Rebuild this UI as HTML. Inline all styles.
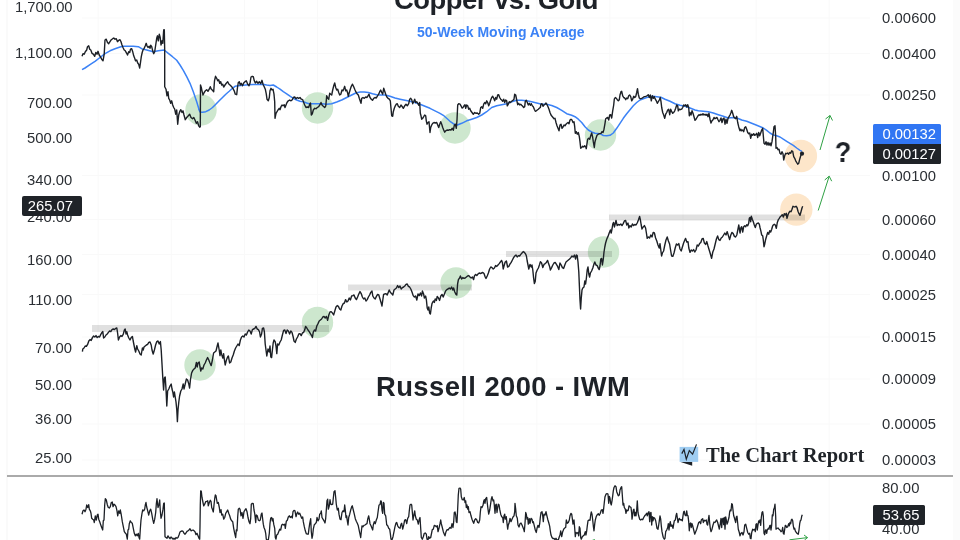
<!DOCTYPE html>
<html><head><meta charset="utf-8"><title>chart</title>
<style>
html,body{margin:0;padding:0;background:#fff;}
body{width:960px;height:540px;overflow:hidden;position:relative;font-family:"Liberation Sans",sans-serif;color:#1f2328;}
.l,.box,.t{will-change:transform;}
.l{position:absolute;font-size:14.8px;line-height:16px;height:16px;white-space:nowrap;color:#2b2f34;}
.ll{right:887.5px;text-align:right;}
.rl{left:882px;letter-spacing:0.1px;}
.box{position:absolute;color:#fff;font-size:14.8px;line-height:20px;white-space:nowrap;}
svg{position:absolute;left:0;top:0;}
.t{position:absolute;font-weight:bold;white-space:nowrap;color:#1e2228;}
</style></head><body>
<div style="position:absolute;left:6px;top:0;width:1.5px;height:540px;background:#fafafa;"></div>
<div style="position:absolute;left:953px;top:0;width:7px;height:540px;background:#fbfbfb;"></div>
<div style="position:absolute;left:7px;top:475px;width:946px;height:2px;background:#aaa;"></div>

<div class="l ll" style="top:-1px">1,700.00</div>
<div class="l ll" style="top:45px">1,100.00</div>
<div class="l ll" style="top:95px">700.00</div>
<div class="l ll" style="top:130px">500.00</div>
<div class="l ll" style="top:172px">340.00</div>
<div class="l ll" style="top:209px">240.00</div>
<div class="l ll" style="top:252px">160.00</div>
<div class="l ll" style="top:292px">110.00</div>
<div class="l ll" style="top:340px">70.00</div>
<div class="l ll" style="top:377px">50.00</div>
<div class="l ll" style="top:411px">36.00</div>
<div class="l ll" style="top:450px">25.00</div>
<div class="l rl" style="top:10px">0.00600</div>
<div class="l rl" style="top:45.5px">0.00400</div>
<div class="l rl" style="top:87px">0.00250</div>
<div class="l rl" style="top:167.5px">0.00100</div>
<div class="l rl" style="top:211.5px">0.00060</div>
<div class="l rl" style="top:246.5px">0.00040</div>
<div class="l rl" style="top:286.5px">0.00025</div>
<div class="l rl" style="top:329px">0.00015</div>
<div class="l rl" style="top:371px">0.00009</div>
<div class="l rl" style="top:416px">0.00005</div>
<div class="l rl" style="top:452px">0.00003</div>
<div class="l rl" style="top:479.5px">80.00</div>
<div class="l rl" style="top:521px">40.00</div>
<svg width="960" height="540" viewBox="0 0 960 540">
<g stroke="#f9f9f9" stroke-width="1" fill="none"><path d="M98.2,0V475M98.2,477V540M171.3,0V475M171.3,477V540M244.4,0V475M244.4,477V540M317.5,0V475M317.5,477V540M390.6,0V475M390.6,477V540M463.7,0V475M463.7,477V540M536.8,0V475M536.8,477V540M609.9,0V475M609.9,477V540M683.0,0V475M683.0,477V540M756.1,0V475M756.1,477V540M829.2,0V475M829.2,477V540M82,18H870M82,53.5H870M82,95H870M82,175.5H870M82,219.5H870M82,254.5H870M82,294.5H870M82,337H870M82,379H870M82,424H870M82,460H870"/></g>
<g fill="#cde7ce">
<circle cx="201" cy="110" r="15.7"/><circle cx="317.5" cy="108" r="15.7"/><circle cx="455" cy="128" r="15.7"/><circle cx="600.5" cy="135" r="15.7"/>
<circle cx="200" cy="365" r="15.7"/><circle cx="317.5" cy="322.5" r="15.7"/><circle cx="456" cy="283" r="15.7"/><circle cx="603.5" cy="252" r="15.7"/>
</g>
<g fill="#fde6ca"><circle cx="800.9" cy="156" r="16.2"/><circle cx="796.3" cy="209.6" r="16.2"/></g>
<g fill="#000" fill-opacity="0.12">
<rect x="92" y="325" width="237" height="7"/>
<rect x="348" y="284.5" width="124" height="6"/>
<rect x="506" y="251" width="106" height="6"/>
<rect x="609" y="214.5" width="196" height="6"/>
</g>

<path d="M82.0,69.7 L85.0,68.0 L90.0,64.7 L95.0,61.3 L100.0,57.5 L105.0,53.7 L110.0,50.8 L115.0,48.8 L120.0,47.0 L123.3,46.3 L128.3,46.3 L133.3,46.2 L138.3,46.7 L141.7,48.7 L146.7,50.0 L153.3,51.7 L158.3,50.8 L164.2,50.0 L168.3,53.3 L172.5,56.7 L176.7,60.3 L180.0,65.0 L183.3,70.3 L186.7,76.7 L190.0,83.3 L193.3,91.7 L196.7,101.7 L199.2,110.0 L198.7,109.2 L200.0,112.0 L202.5,112.3 L205.8,111.7 L209.2,110.0 L212.5,107.5 L215.8,104.2 L219.2,100.8 L222.5,97.5 L225.8,94.2 L229.2,91.3 L232.5,88.3 L235.0,86.3 L238.3,85.8 L243.3,85.3 L248.3,84.7 L253.3,84.5 L258.3,84.5 L262.5,84.2 L266.7,85.0 L270.0,85.5 L273.3,85.0 L276.7,87.0 L280.0,89.2 L283.3,91.7 L286.7,93.8 L290.0,96.2 L293.3,98.3 L296.7,100.0 L300.0,101.3 L303.3,101.7 L306.7,103.0 L309.2,103.8 L313.3,103.7 L320.0,103.8 L321.7,103.7 L326.7,104.2 L331.7,103.7 L336.7,102.0 L341.7,100.0 L346.7,97.5 L351.7,95.0 L355.8,93.0 L360.0,92.0 L364.2,92.0 L368.3,92.5 L372.5,93.8 L376.7,94.7 L380.8,95.0 L385.0,95.0 L390.0,96.3 L395.0,98.0 L400.0,99.2 L405.0,100.3 L410.0,101.3 L415.0,102.5 L420.0,104.2 L425.0,106.3 L430.0,108.3 L435.0,110.8 L440.0,113.3 L443.3,115.3 L446.7,118.3 L450.0,121.3 L453.3,123.7 L456.7,125.3 L456.7,125.3 L461.7,123.3 L466.7,120.8 L471.7,119.2 L476.7,117.5 L481.7,115.0 L486.7,111.7 L491.7,107.5 L496.7,105.8 L501.7,104.7 L506.7,103.7 L511.7,101.7 L516.7,100.3 L521.7,100.3 L526.7,100.8 L531.7,101.7 L536.7,103.0 L541.7,104.2 L546.7,104.2 L551.7,105.5 L556.7,107.5 L561.7,110.3 L566.7,113.7 L571.7,115.3 L575.0,116.7 L578.3,119.2 L581.7,122.5 L585.0,126.7 L588.3,130.0 L591.7,132.0 L595.0,133.3 L600.0,133.7 L603.3,135.5 L606.7,135.8 L610.0,135.3 L613.3,133.0 L616.7,128.3 L620.0,123.3 L623.3,118.3 L626.7,113.7 L630.0,109.7 L633.3,105.8 L636.7,102.5 L640.0,100.0 L643.3,98.7 L646.7,97.5 L650.0,96.7 L653.3,96.3 L656.7,96.7 L660.8,97.2 L665.0,99.2 L670.0,101.3 L675.0,103.7 L680.0,105.3 L685.0,106.3 L690.0,108.0 L695.0,110.0 L698.3,110.8 L703.3,111.2 L708.3,111.7 L713.3,113.0 L718.3,114.7 L723.3,116.3 L728.3,118.0 L733.3,117.5 L736.7,118.0 L740.0,119.2 L741.7,120.0 L746.7,121.3 L751.7,123.3 L756.7,125.3 L763.3,128.0 L766.7,130.3 L770.0,133.0 L773.3,135.0 L776.7,135.8 L780.0,137.0 L783.3,139.2 L786.7,141.3 L790.0,143.3 L793.3,145.3 L796.7,148.0 L800.0,150.3 L802.0,151.3" fill="none" stroke="#3b82f6" stroke-width="1.5" stroke-linejoin="round"/>
<path d="M82.0,56.3 L83.0,53.7 L84.2,54.2 L85.3,51.7 L86.7,50.0 L87.5,46.7 L88.7,45.8 L89.7,49.2 L90.8,50.0 L92.0,53.3 L93.3,54.2 L94.7,56.3 L95.8,52.5 L97.0,54.2 L98.0,51.3 L99.2,55.0 L100.3,56.7 L101.7,59.2 L103.0,60.8 L104.2,54.2 L105.0,40.0 L106.2,39.2 L107.5,42.5 L108.7,43.7 L110.0,41.7 L111.3,39.7 L112.7,38.7 L113.8,38.0 L115.0,39.2 L116.3,38.7 L117.5,41.7 L118.7,40.3 L120.0,39.7 L121.0,41.7 L122.0,45.0 L123.0,47.5 L124.2,50.0 L125.3,50.8 L126.7,53.3 L127.5,55.0 L128.7,51.7 L129.7,52.5 L130.5,49.2 L131.7,48.7 L132.7,51.7 L133.7,55.8 L134.7,58.3 L135.5,60.8 L136.7,60.0 L137.7,63.0 L138.7,64.2 L139.7,68.0 L140.5,62.5 L141.3,56.7 L142.2,52.5 L143.0,50.0 L144.2,48.3 L145.3,45.8 L146.2,43.3 L147.0,45.8 L148.0,47.5 L149.2,46.3 L150.0,48.3 L150.8,45.3 L151.7,46.7 L152.7,50.8 L153.7,53.7 L154.7,51.7 L155.7,45.0 L156.7,38.3 L157.5,35.8 L158.3,40.8 L159.3,34.2 L160.2,37.5 L161.0,45.0 L162.0,40.8 L162.8,43.3 L163.7,30.0 L164.3,29.7 L164.7,50.0 L164.7,86.7 L166.0,89.2 L167.0,95.8 L168.0,91.7 L168.7,98.3 L169.7,100.0 L170.7,103.3 L171.7,100.8 L172.7,105.0 L173.7,107.5 L174.7,109.2 L175.7,114.2 L176.7,110.0 L177.7,124.2 L178.7,115.0 L179.7,111.7 L180.8,109.7 L182.0,112.5 L183.0,110.8 L184.0,115.0 L185.3,119.7 L186.7,117.5 L188.3,115.8 L189.7,114.2 L191.0,117.5 L192.5,118.7 L193.8,117.5 L195.0,120.0 L196.3,123.3 L197.5,121.7 L198.7,125.8 L199.7,127.2 L200.3,126.7 L200.5,85.0 L201.3,87.5 L202.0,90.8 L203.0,95.0 L204.2,92.5 L205.3,90.8 L206.7,89.7 L208.0,91.3 L209.2,89.2 L210.3,86.7 L211.3,89.2 L212.5,90.3 L213.7,91.7 L214.5,80.8 L215.5,76.3 L216.7,78.3 L217.7,80.8 L218.7,79.7 L219.7,83.3 L220.7,81.7 L221.7,85.0 L222.7,84.2 L223.7,87.0 L225.0,85.0 L226.3,83.3 L227.7,81.7 L229.0,84.2 L230.3,85.3 L231.7,86.7 L233.0,88.7 L234.2,90.8 L235.3,94.2 L236.7,94.7 L237.5,87.5 L238.3,82.5 L239.3,81.7 L240.3,85.0 L241.3,83.3 L242.5,85.8 L243.7,83.0 L245.0,81.7 L246.3,80.8 L247.7,84.2 L249.0,85.8 L250.0,83.3 L251.0,77.0 L252.2,76.3 L253.3,76.7 L254.3,80.8 L255.3,83.0 L256.7,81.3 L258.0,83.3 L259.3,81.7 L260.7,83.7 L262.0,80.3 L263.0,84.2 L264.2,86.7 L265.3,89.2 L266.3,94.2 L267.0,99.2 L268.3,100.8 L269.3,97.5 L270.0,90.8 L271.0,88.3 L272.0,90.0 L273.0,89.2 L274.0,94.2 L274.7,101.7 L275.0,118.3 L276.0,113.3 L277.0,111.7 L278.0,110.0 L279.2,108.3 L280.0,109.7 L281.0,106.7 L282.0,105.0 L283.0,105.8 L284.2,104.7 L285.0,107.5 L286.0,105.0 L287.0,102.5 L288.3,100.8 L289.7,100.0 L291.0,100.8 L292.3,99.7 L293.3,97.5 L294.7,97.0 L296.0,98.7 L297.3,97.5 L298.7,98.3 L300.0,97.5 L301.3,99.2 L302.7,99.7 L303.7,102.5 L304.7,105.0 L306.0,107.5 L307.3,107.0 L308.7,107.5 L309.7,104.2 L310.5,103.0 L311.3,115.0 L312.3,113.7 L313.3,110.0 L314.7,108.3 L316.0,108.7 L317.3,107.5 L318.7,106.7 L320.0,104.7 L321.0,102.5 L322.0,105.0 L323.3,106.3 L324.7,107.5 L325.8,105.8 L326.7,95.8 L327.7,98.3 L328.7,99.2 L329.7,93.3 L330.7,94.2 L331.7,95.0 L332.7,90.0 L333.7,85.8 L334.7,83.0 L335.7,87.5 L336.7,90.0 L337.7,89.2 L338.7,92.5 L339.7,95.0 L340.8,94.2 L342.0,90.0 L343.0,90.8 L344.0,88.3 L344.7,86.3 L345.7,90.8 L346.7,90.0 L347.7,93.3 L348.3,96.3 L349.3,92.5 L350.3,89.2 L351.3,86.3 L352.5,84.2 L353.7,86.7 L354.7,89.2 L355.8,91.7 L357.0,93.7 L358.3,95.0 L359.3,98.3 L360.3,101.3 L361.0,103.3 L361.7,98.3 L363.0,97.5 L364.3,98.3 L365.7,97.0 L367.0,97.5 L368.0,95.8 L369.0,94.2 L370.0,97.5 L371.3,99.2 L372.5,100.3 L373.7,98.3 L375.0,97.5 L376.3,98.0 L377.5,95.8 L378.7,94.2 L379.7,91.7 L380.7,90.0 L381.7,92.5 L382.7,94.2 L383.7,88.3 L384.7,91.3 L385.7,94.2 L386.7,96.7 L388.0,98.3 L389.3,99.2 L390.3,100.8 L391.0,108.3 L391.7,115.8 L392.7,116.3 L393.3,111.7 L394.3,108.3 L395.3,105.8 L396.3,104.2 L397.3,103.7 L398.3,106.3 L399.7,107.5 L401.0,105.0 L402.3,106.7 L403.3,108.3 L404.7,105.8 L406.0,104.2 L407.3,105.8 L408.7,103.7 L409.7,99.2 L410.7,98.3 L411.7,99.7 L412.7,103.7 L413.7,101.7 L414.7,99.2 L415.7,102.5 L416.7,101.7 L417.7,103.3 L418.7,105.3 L419.7,102.5 L420.3,113.3 L421.0,115.8 L421.7,119.2 L422.7,118.3 L423.7,116.7 L424.7,115.0 L425.7,115.8 L426.3,120.8 L427.0,124.2 L428.0,122.5 L429.0,121.7 L430.0,132.5 L430.7,127.5 L431.7,125.0 L432.7,123.3 L434.0,122.5 L435.3,123.0 L436.7,122.5 L437.7,125.0 L438.7,127.5 L439.7,124.2 L440.7,121.7 L441.7,124.2 L442.7,127.5 L443.7,130.0 L444.7,132.2 L445.7,130.8 L447.0,130.0 L448.3,130.3 L449.7,129.7 L451.0,130.0 L452.3,128.3 L453.3,130.3 L454.3,125.3 L455.3,124.2 L456.3,128.3 L457.0,120.0 L457.7,105.0 L458.7,103.7 L460.0,104.2 L461.0,105.8 L462.0,108.0 L463.0,107.5 L464.0,105.8 L465.0,104.7 L465.7,108.3 L466.7,105.0 L467.7,105.8 L468.7,109.2 L469.7,108.3 L470.7,110.8 L472.0,112.5 L473.3,114.2 L474.7,112.5 L476.0,113.3 L477.3,113.0 L478.7,114.2 L479.7,113.3 L480.7,107.5 L481.7,106.7 L482.7,108.3 L483.7,104.2 L484.7,102.5 L485.7,103.7 L486.7,100.8 L487.7,102.5 L488.7,105.8 L489.7,103.3 L490.7,100.0 L491.7,97.5 L492.7,96.3 L493.7,98.3 L494.7,100.8 L495.7,97.5 L496.7,99.2 L497.7,95.0 L498.7,94.7 L499.7,97.5 L500.7,99.2 L501.7,100.0 L502.7,101.3 L503.7,99.2 L504.7,102.5 L505.7,100.0 L506.7,100.8 L507.3,105.8 L508.3,104.2 L509.3,101.7 L510.3,102.5 L511.7,101.3 L513.0,100.3 L514.0,99.2 L514.7,94.2 L515.7,95.0 L516.7,100.0 L517.7,104.7 L518.7,103.3 L519.7,105.0 L520.7,104.2 L521.7,105.3 L522.7,106.3 L523.7,107.5 L524.7,106.7 L525.3,101.3 L526.3,100.3 L527.3,102.5 L528.3,105.0 L529.3,103.3 L530.3,105.3 L531.3,103.7 L532.3,105.8 L533.3,106.7 L534.3,109.2 L535.3,111.3 L536.3,110.8 L537.3,110.0 L538.3,109.2 L539.3,108.3 L540.3,107.5 L541.0,104.2 L542.0,103.7 L543.0,106.3 L544.0,105.0 L545.0,104.2 L546.0,103.0 L547.0,104.7 L548.0,106.7 L549.0,109.2 L550.0,112.5 L551.0,115.0 L552.0,116.3 L553.0,117.5 L554.0,118.7 L555.0,118.3 L556.0,122.5 L557.0,125.8 L558.0,128.3 L559.0,130.8 L560.0,125.0 L561.0,124.2 L562.0,128.3 L563.0,127.0 L564.0,125.0 L565.0,125.8 L566.0,124.2 L567.0,123.3 L568.0,122.5 L569.0,123.7 L570.0,120.0 L571.0,119.2 L572.0,120.0 L573.0,122.5 L574.0,121.7 L574.7,126.7 L575.3,133.3 L576.3,131.7 L577.3,134.2 L578.3,132.5 L579.3,136.7 L580.0,141.7 L580.7,148.3 L581.7,147.5 L582.7,146.3 L583.7,147.0 L584.7,145.8 L585.7,146.7 L586.3,148.7 L587.0,143.3 L587.7,139.2 L588.7,138.3 L589.7,139.2 L590.7,135.8 L591.7,133.0 L592.7,137.5 L593.3,141.7 L594.3,147.5 L595.0,141.7 L596.0,138.3 L597.0,135.3 L598.3,134.2 L599.7,133.7 L601.0,133.3 L602.0,131.7 L603.0,132.5 L604.0,129.2 L605.0,123.3 L605.7,118.7 L606.7,118.0 L607.7,117.5 L608.7,120.0 L609.7,115.0 L610.7,114.7 L611.7,118.0 L612.7,110.8 L613.7,105.0 L614.3,99.2 L615.3,97.5 L616.3,98.3 L617.3,99.7 L618.3,100.8 L619.3,99.7 L620.0,95.0 L621.0,91.7 L621.7,91.3 L622.7,95.8 L623.7,97.5 L624.7,98.0 L625.7,99.7 L626.7,98.0 L627.7,98.7 L628.7,95.8 L629.7,95.0 L630.7,96.7 L631.7,100.8 L632.7,99.2 L633.7,96.3 L634.7,97.5 L635.7,96.7 L636.7,92.5 L637.5,88.7 L638.3,94.2 L639.3,98.0 L640.3,98.7 L641.7,98.3 L643.0,97.5 L644.3,96.7 L645.7,96.3 L647.0,95.8 L648.3,94.7 L649.3,97.5 L650.3,95.0 L651.3,100.8 L652.3,95.8 L653.3,98.3 L654.3,96.7 L655.3,99.2 L656.3,100.8 L657.3,103.3 L658.3,101.7 L659.3,100.0 L660.3,97.5 L661.0,101.7 L661.7,107.5 L662.7,112.5 L663.7,115.0 L664.7,118.3 L665.7,114.2 L666.7,112.5 L667.7,110.0 L668.7,109.2 L669.7,114.7 L670.7,109.2 L671.7,111.7 L672.7,113.3 L673.7,112.5 L674.7,110.8 L675.7,108.3 L676.7,105.0 L677.7,105.8 L678.3,110.8 L679.3,109.2 L680.3,109.7 L681.7,109.2 L682.7,107.5 L683.7,105.0 L684.7,105.8 L685.7,104.7 L686.7,107.0 L687.7,104.7 L688.7,107.5 L689.3,115.8 L690.0,112.5 L691.0,115.0 L692.0,110.8 L693.0,113.3 L694.0,116.7 L695.0,120.3 L696.0,119.2 L697.0,117.5 L698.0,115.8 L699.0,114.7 L700.0,115.3 L701.0,114.2 L702.0,115.0 L703.0,113.7 L704.0,115.0 L705.0,114.2 L706.0,115.3 L707.0,114.2 L708.0,116.7 L709.0,113.3 L710.0,119.2 L711.0,123.0 L712.0,120.8 L713.0,119.7 L714.0,117.5 L715.0,118.7 L716.0,118.0 L717.0,117.5 L718.0,119.7 L719.0,121.7 L720.0,120.3 L721.0,118.0 L722.0,122.5 L723.0,118.7 L724.0,118.0 L725.0,124.2 L726.0,119.2 L727.0,123.3 L728.0,118.3 L729.0,116.7 L730.0,115.0 L731.0,112.5 L731.7,110.3 L732.7,113.3 L733.7,116.7 L734.7,118.0 L735.7,118.7 L736.7,116.3 L737.7,122.5 L738.7,126.7 L739.7,130.0 L740.0,130.8 L740.7,129.2 L741.7,130.8 L742.7,130.0 L743.7,131.7 L744.7,127.5 L745.7,126.7 L746.7,129.2 L747.7,132.5 L748.7,133.7 L749.7,133.0 L750.7,138.3 L751.7,134.2 L752.7,135.3 L753.7,133.7 L754.7,135.3 L755.7,134.7 L756.7,133.3 L757.7,137.5 L758.7,132.5 L759.7,135.8 L760.7,133.0 L761.7,130.0 L762.7,128.3 L763.3,135.8 L764.0,143.3 L765.0,144.2 L766.0,141.7 L767.0,145.0 L768.0,142.5 L769.0,145.3 L770.0,143.0 L771.0,145.8 L772.0,141.7 L772.7,136.7 L773.3,132.5 L774.0,126.7 L775.0,125.8 L775.7,136.7 L776.0,148.3 L777.0,147.5 L778.0,149.7 L779.0,149.2 L780.0,153.3 L781.0,154.2 L782.0,151.7 L783.0,153.7 L783.7,160.0 L784.7,155.8 L785.7,153.3 L786.7,153.7 L787.7,153.0 L788.7,154.2 L789.7,152.5 L790.7,153.3 L791.7,150.8 L792.7,151.3 L793.7,156.7 L794.7,158.3 L795.7,160.8 L796.7,162.5 L797.7,164.2 L798.7,163.3 L799.7,159.2 L800.7,155.8 L801.7,153.7" fill="none" stroke="#1c2026" stroke-width="1.4" stroke-linejoin="round"/>
<path d="M82.4,351.6 L82.8,349.0 L84.0,348.0 L85.2,346.0 L86.4,346.4 L87.6,344.4 L88.8,341.0 L90.0,339.6 L91.2,340.4 L92.4,337.6 L93.6,336.0 L94.8,337.0 L96.0,335.6 L97.2,337.6 L98.4,336.4 L99.6,337.0 L100.8,334.4 L102.0,332.4 L102.8,331.6 L103.6,338.0 L104.8,337.0 L106.0,335.0 L107.2,334.0 L108.4,332.4 L109.6,331.0 L110.8,331.6 L112.0,329.6 L113.2,329.0 L114.4,329.6 L115.6,328.4 L116.8,328.0 L117.6,333.0 L118.4,340.0 L119.6,337.0 L120.8,335.6 L122.0,336.4 L123.2,334.4 L124.4,330.0 L125.2,329.0 L126.0,334.0 L126.8,331.6 L127.6,335.0 L128.8,338.0 L130.0,340.0 L131.2,337.6 L132.4,336.4 L133.2,341.0 L134.0,345.0 L134.8,349.0 L135.6,352.0 L136.8,345.6 L137.6,349.0 L138.8,351.0 L140.0,354.0 L141.2,355.0 L142.4,348.0 L143.2,350.0 L144.0,347.0 L145.2,346.0 L146.4,345.0 L147.6,344.4 L148.8,342.4 L150.0,342.0 L151.2,345.0 L152.0,350.0 L153.2,354.0 L154.4,350.0 L155.6,345.0 L156.8,341.6 L158.0,341.0 L159.2,344.0 L160.4,341.6 L161.2,350.0 L162.0,364.0 L162.8,378.0 L163.6,390.0 L164.4,378.0 L165.2,377.0 L166.0,389.0 L166.8,406.0 L167.6,391.0 L168.8,389.0 L170.0,386.0 L171.2,384.0 L172.0,389.0 L172.8,392.0 L173.6,397.0 L174.4,392.0 L175.2,397.0 L176.0,402.0 L176.8,410.0 L177.4,421.6 L178.0,410.0 L178.8,402.0 L179.6,396.0 L180.8,391.0 L182.0,389.0 L183.2,384.0 L184.0,389.0 L185.2,384.0 L186.4,379.0 L187.6,380.0 L188.8,384.0 L189.6,388.0 L190.4,380.0 L191.6,373.0 L192.8,370.4 L194.0,369.0 L195.2,368.0 L196.4,362.4 L197.2,367.0 L198.0,363.0 L199.2,362.0 L200.0,367.0 L200.8,371.0 L201.6,368.0 L202.8,369.0 L204.0,365.0 L205.2,363.0 L206.4,360.0 L207.6,357.6 L208.8,360.0 L210.0,363.0 L211.2,365.6 L212.4,360.0 L213.6,353.0 L214.8,352.0 L216.0,351.0 L217.2,346.0 L218.0,343.0 L219.2,350.0 L220.0,355.6 L220.8,350.0 L221.6,354.4 L222.8,358.0 L223.6,353.6 L224.4,360.0 L225.2,365.0 L226.4,360.0 L227.6,357.0 L228.4,356.0 L229.6,363.0 L230.8,362.0 L232.0,358.0 L233.2,355.0 L234.4,351.0 L235.6,348.0 L236.8,346.0 L238.0,344.0 L239.2,345.6 L240.4,340.0 L241.6,337.0 L242.8,336.0 L244.0,337.0 L245.2,334.0 L246.4,335.0 L247.6,332.0 L248.8,330.0 L250.0,331.0 L251.2,334.0 L252.4,329.6 L253.6,329.0 L254.8,328.4 L256.0,326.4 L257.2,329.0 L258.4,329.6 L259.6,332.0 L260.4,337.0 L261.6,334.0 L262.4,328.4 L263.6,328.0 L264.4,332.0 L265.2,344.0 L266.0,350.0 L266.8,356.0 L268.0,349.0 L269.2,352.0 L270.0,346.0 L270.8,357.0 L271.6,357.6 L272.4,350.0 L273.2,343.0 L274.0,340.0 L275.2,341.6 L276.0,346.0 L276.8,353.6 L277.6,344.0 L278.8,345.0 L280.0,342.0 L281.2,340.0 L282.4,335.0 L283.6,330.4 L284.8,330.0 L286.0,333.6 L287.2,330.0 L288.4,331.0 L289.6,334.0 L290.8,331.0 L292.0,332.4 L293.2,337.0 L294.0,341.0 L295.2,342.4 L296.4,339.0 L297.6,337.0 L298.8,334.0 L300.0,333.6 L301.2,335.6 L302.4,333.0 L303.6,332.4 L304.8,329.6 L305.6,326.4 L306.8,328.0 L308.0,330.0 L309.2,331.6 L310.4,333.6 L311.6,335.6 L312.4,337.6 L313.2,332.4 L314.4,330.0 L315.6,331.0 L316.8,326.0 L318.0,323.6 L319.2,321.0 L320.4,320.0 L321.6,319.0 L322.8,317.0 L324.0,316.4 L325.2,318.0 L326.4,316.4 L327.6,320.4 L328.8,315.0 L330.0,312.0 L331.2,311.6 L332.4,313.0 L333.6,315.0 L334.8,311.0 L336.0,307.0 L337.2,305.6 L338.4,306.4 L339.6,309.0 L340.8,310.0 L342.0,306.0 L343.2,303.6 L344.4,303.0 L345.6,299.6 L346.8,302.0 L348.0,301.0 L349.2,298.0 L350.4,300.0 L351.6,296.0 L352.8,295.6 L354.0,295.0 L355.2,298.0 L356.4,299.6 L357.6,297.0 L358.8,294.0 L360.0,291.6 L361.2,293.6 L362.4,297.0 L363.6,299.0 L364.8,298.0 L366.0,301.0 L367.2,299.6 L368.4,297.0 L369.6,295.0 L370.8,292.4 L372.0,291.0 L372.8,296.0 L374.0,298.0 L375.2,299.0 L376.4,296.4 L377.6,294.4 L378.8,295.0 L380.0,299.0 L381.2,303.0 L382.0,306.0 L382.8,300.0 L383.6,294.4 L384.8,294.0 L386.0,293.6 L387.2,295.0 L388.4,292.0 L389.2,290.0 L390.4,292.4 L391.6,293.6 L392.8,295.0 L394.0,290.0 L395.2,289.0 L396.4,288.0 L397.6,285.6 L398.8,287.6 L400.0,286.0 L401.2,289.0 L402.4,287.6 L403.6,287.0 L404.8,286.0 L406.0,284.4 L407.2,284.0 L408.4,286.4 L409.6,287.0 L410.8,289.0 L412.0,292.0 L413.2,295.6 L414.4,297.0 L415.6,296.0 L416.8,300.0 L418.0,294.0 L419.2,295.6 L420.4,293.0 L421.6,296.0 L422.4,291.0 L423.6,294.0 L424.4,298.0 L425.6,296.0 L426.4,300.0 L427.2,308.0 L428.0,310.0 L428.8,307.0 L429.6,313.0 L430.4,314.0 L431.2,308.0 L432.0,303.6 L432.8,302.0 L433.6,301.0 L434.4,302.4 L435.2,299.0 L436.4,300.4 L437.2,296.4 L438.4,298.0 L439.6,300.4 L440.8,296.0 L442.0,294.4 L443.2,297.0 L444.4,294.0 L445.6,291.0 L446.8,289.6 L448.0,289.0 L449.2,288.0 L450.4,289.0 L451.6,287.0 L452.8,290.0 L453.6,288.0 L454.8,292.0 L456.0,294.4 L456.8,295.0 L457.6,284.0 L458.4,279.6 L459.6,278.0 L460.4,276.0 L461.6,279.0 L462.8,277.6 L464.0,278.4 L465.2,278.0 L466.4,277.0 L467.6,276.0 L468.8,275.6 L470.0,277.0 L471.2,278.0 L472.4,277.0 L473.6,279.6 L474.4,276.0 L475.6,274.4 L476.8,275.6 L478.0,274.0 L479.2,273.0 L480.4,273.6 L481.6,273.0 L482.8,272.4 L484.0,273.6 L485.2,277.0 L486.0,278.4 L487.2,276.0 L488.4,273.0 L489.6,269.0 L490.8,267.0 L492.0,267.6 L493.2,269.0 L494.4,268.0 L495.6,265.6 L496.8,266.4 L498.0,265.0 L499.2,263.6 L500.4,262.0 L501.6,260.4 L502.4,262.4 L503.2,269.0 L504.0,266.0 L505.2,262.0 L506.4,261.0 L507.6,267.0 L508.8,266.4 L510.0,264.0 L511.2,262.4 L512.4,260.0 L513.6,257.6 L514.8,256.0 L516.0,255.0 L517.2,257.0 L518.4,255.6 L519.6,256.0 L520.8,254.4 L522.0,253.0 L523.2,251.6 L524.4,252.4 L525.6,254.0 L526.4,256.0 L527.2,261.0 L528.0,265.0 L528.8,269.0 L530.0,264.4 L531.2,267.0 L532.0,265.0 L532.8,270.0 L533.6,278.0 L534.4,283.6 L535.2,281.6 L536.0,273.0 L537.2,270.0 L538.4,268.0 L539.6,264.4 L540.4,261.6 L541.6,263.0 L542.8,267.6 L544.0,264.4 L545.2,263.6 L546.4,262.4 L547.6,260.4 L548.4,263.0 L549.6,266.4 L550.4,270.0 L551.6,267.6 L552.8,265.0 L554.0,263.0 L555.2,262.4 L556.4,264.4 L557.6,266.4 L558.8,269.6 L560.0,263.0 L561.2,265.0 L562.4,267.6 L563.6,268.4 L564.8,265.0 L566.0,262.0 L567.2,261.0 L568.4,260.0 L569.6,259.0 L570.8,257.6 L572.0,256.0 L573.2,257.0 L574.4,255.0 L575.6,259.0 L576.4,255.0 L577.2,255.6 L578.0,262.0 L578.8,272.0 L579.4,286.0 L580.0,300.0 L580.6,309.0 L581.2,299.0 L582.0,290.0 L582.8,288.0 L584.0,287.0 L584.8,281.0 L585.6,284.0 L586.4,278.0 L587.2,270.0 L588.0,267.0 L588.8,274.0 L589.6,277.0 L590.4,273.0 L591.6,271.0 L592.8,268.0 L594.0,264.0 L594.8,262.0 L596.0,265.0 L597.2,265.6 L598.4,268.4 L599.2,269.6 L600.0,266.0 L600.8,259.0 L601.6,258.4 L602.4,265.0 L603.2,260.0 L604.0,252.0 L604.8,247.0 L605.6,243.0 L606.8,239.0 L608.0,236.4 L609.2,233.0 L610.4,230.0 L611.2,233.0 L612.0,229.0 L612.8,224.0 L613.6,222.4 L614.4,227.0 L615.2,224.0 L616.0,220.4 L617.2,225.6 L618.4,224.4 L619.6,225.0 L620.8,224.0 L622.0,225.6 L623.2,223.6 L624.4,221.0 L625.6,220.4 L626.8,225.0 L628.0,223.0 L628.8,228.0 L630.0,225.6 L631.2,227.0 L632.4,224.0 L633.6,225.6 L634.8,224.4 L636.0,225.0 L637.2,223.0 L638.4,220.0 L639.6,216.4 L640.4,220.0 L641.2,225.0 L642.0,229.0 L643.2,227.0 L644.4,225.6 L645.6,228.0 L646.4,233.0 L647.2,238.4 L648.4,237.0 L649.6,238.0 L650.8,235.0 L652.0,237.0 L653.2,232.4 L654.4,233.0 L655.6,238.0 L656.8,241.0 L658.0,245.0 L659.2,248.0 L660.0,243.6 L660.8,250.0 L661.6,256.0 L662.4,253.0 L663.6,251.0 L664.8,245.0 L666.0,240.0 L667.2,237.0 L668.4,241.0 L669.6,244.0 L670.4,249.0 L671.6,256.0 L672.8,256.4 L674.0,253.0 L675.2,248.0 L676.4,244.0 L677.6,245.0 L678.8,243.6 L680.0,249.0 L681.2,251.0 L682.4,247.0 L683.6,243.0 L684.8,240.0 L685.6,238.4 L686.8,242.0 L688.0,241.6 L688.8,248.0 L690.0,252.4 L691.2,250.0 L692.4,251.0 L693.6,249.6 L694.8,252.0 L696.0,250.0 L697.2,245.0 L698.4,246.0 L699.6,243.6 L700.8,242.4 L702.0,239.0 L703.2,238.4 L704.4,243.0 L705.6,244.4 L706.8,241.6 L708.0,246.0 L709.2,250.0 L710.4,254.0 L711.6,258.4 L712.8,252.0 L714.0,249.0 L715.2,244.0 L716.4,239.0 L717.6,236.0 L718.8,239.6 L720.0,240.4 L721.2,238.0 L722.4,237.0 L723.6,235.0 L724.8,233.0 L726.0,235.0 L727.2,231.6 L728.4,235.6 L729.6,239.6 L730.8,235.0 L732.0,232.4 L733.2,233.6 L734.4,236.4 L735.6,237.0 L736.8,235.0 L738.0,229.0 L738.8,225.0 L740.0,233.0 L740.0,233.0 L741.0,227.5 L741.7,226.7 L742.7,232.0 L743.7,226.7 L744.7,225.8 L745.7,226.7 L746.7,224.7 L747.7,225.8 L748.7,223.3 L749.3,218.3 L750.0,217.5 L750.7,221.7 L751.3,216.3 L752.3,219.2 L753.3,221.7 L754.3,225.0 L755.3,227.5 L756.3,224.2 L757.3,223.3 L758.3,223.0 L759.3,224.2 L760.0,227.5 L761.0,231.7 L761.7,235.0 L762.7,235.8 L763.3,240.0 L764.0,246.7 L764.7,244.2 L765.7,239.2 L766.7,235.8 L767.7,232.5 L768.7,234.2 L769.7,230.8 L770.7,232.0 L771.7,229.2 L772.7,225.8 L773.3,225.0 L774.3,224.2 L775.3,225.0 L776.3,228.3 L777.3,222.5 L778.3,219.7 L779.3,218.3 L780.3,216.7 L781.3,215.8 L782.3,214.7 L783.3,217.0 L784.3,213.7 L785.3,215.0 L786.3,213.3 L787.0,218.3 L788.0,214.7 L789.0,212.5 L790.0,211.3 L791.0,211.7 L792.0,209.2 L793.0,206.3 L794.0,206.7 L795.0,207.0 L796.0,206.3 L797.0,207.5 L798.0,211.3 L799.0,213.7 L800.0,215.3 L801.0,211.7 L802.0,208.0 L802.7,206.3" fill="none" stroke="#1c2026" stroke-width="1.4" stroke-linejoin="round"/>
<path d="M82.0,514.2 L83.0,510.8 L84.0,510.0 L85.0,511.7 L86.0,509.2 L86.7,505.0 L87.7,507.5 L88.7,504.7 L89.3,509.2 L90.3,510.8 L91.0,513.3 L91.7,518.3 L92.7,519.2 L93.7,520.0 L94.3,522.5 L95.3,515.8 L96.3,520.0 L97.3,515.0 L98.0,514.2 L98.7,519.2 L99.7,521.7 L100.7,524.7 L101.7,527.5 L102.7,530.0 L103.3,520.8 L104.0,520.0 L104.7,505.0 L105.3,498.7 L106.3,500.0 L107.3,504.7 L108.3,507.5 L109.3,508.0 L110.3,506.7 L111.3,502.5 L112.3,502.0 L113.0,506.7 L114.0,504.2 L115.0,505.0 L116.0,506.7 L117.0,510.8 L117.7,515.8 L118.7,510.8 L119.7,513.3 L120.3,510.0 L121.3,515.0 L122.3,521.7 L123.3,526.7 L124.3,531.7 L125.3,533.0 L126.3,534.2 L127.3,539.2 L128.0,530.0 L128.7,529.2 L129.3,523.7 L130.3,520.8 L131.3,522.5 L132.3,523.3 L133.3,528.3 L134.3,533.3 L135.3,535.8 L136.3,534.2 L137.3,535.8 L138.3,533.3 L139.0,537.5 L139.7,539.2 L140.3,529.2 L141.0,520.0 L142.0,513.3 L142.7,510.0 L143.7,510.8 L144.7,509.2 L145.3,505.0 L146.0,502.5 L146.7,507.0 L147.7,510.8 L148.7,515.0 L149.7,510.8 L150.7,509.2 L151.7,513.3 L152.7,519.2 L153.7,523.3 L154.7,519.2 L155.7,512.5 L156.3,504.2 L157.0,498.7 L158.0,507.5 L159.0,504.2 L159.7,500.0 L160.3,510.8 L161.0,518.3 L162.0,515.0 L163.0,509.2 L163.7,503.3 L164.3,503.0 L164.7,521.7 L165.0,536.7 L166.0,537.5 L167.0,538.3 L168.0,535.8 L169.0,537.5 L170.0,538.7 L171.0,537.0 L172.0,538.0 L173.0,539.2 L174.0,538.3 L175.0,539.2 L176.0,537.5 L177.0,538.3 L178.0,537.5 L179.0,535.0 L180.0,532.0 L181.0,531.3 L182.0,530.8 L183.0,531.3 L184.0,533.3 L185.0,534.2 L186.0,533.0 L187.0,531.3 L188.0,530.8 L189.0,530.0 L190.0,528.7 L191.0,530.8 L192.0,530.3 L193.0,530.0 L194.0,530.8 L195.0,531.7 L196.0,534.7 L197.0,533.3 L198.0,535.8 L199.0,538.3 L199.7,539.2 L200.0,526.7 L200.3,505.0 L200.7,490.8 L201.3,491.3 L202.0,497.5 L203.0,502.5 L203.7,505.8 L204.7,504.2 L205.7,501.7 L206.7,501.3 L207.7,500.8 L208.3,505.8 L209.3,502.5 L210.3,500.3 L211.0,501.3 L211.7,507.5 L212.7,510.0 L213.3,512.0 L214.0,505.0 L214.7,498.7 L215.3,495.0 L216.0,495.8 L216.7,500.0 L217.3,503.3 L218.3,502.5 L219.3,507.5 L220.0,512.5 L221.0,509.7 L221.7,515.0 L222.7,514.2 L223.7,519.2 L224.7,517.5 L225.7,513.3 L226.7,511.7 L227.7,510.0 L228.7,513.3 L229.7,515.8 L230.7,519.2 L231.7,520.8 L232.7,521.7 L233.7,528.3 L234.7,533.3 L235.7,537.5 L236.3,530.0 L237.0,530.8 L237.7,516.7 L238.3,509.2 L239.3,508.3 L240.0,509.2 L241.0,515.8 L242.0,512.5 L243.0,518.3 L244.0,511.7 L245.0,510.0 L246.0,508.7 L247.0,511.7 L248.0,517.5 L249.0,521.7 L250.0,523.7 L250.7,518.3 L251.3,504.2 L252.3,503.3 L253.3,503.7 L254.0,510.0 L254.7,513.3 L255.7,522.5 L256.3,515.0 L257.3,515.8 L258.3,520.0 L259.3,520.8 L260.3,520.0 L261.3,514.2 L262.0,513.0 L262.7,519.2 L263.3,524.2 L264.0,527.5 L265.0,530.0 L265.7,533.3 L266.3,539.2 L267.3,540.0 L268.3,540.0 L269.3,533.3 L270.0,523.3 L270.7,518.0 L271.7,517.5 L272.3,520.8 L273.0,518.7 L273.7,524.2 L274.7,528.3 L275.3,537.5 L276.0,539.2 L276.7,535.0 L277.7,534.2 L278.7,531.7 L279.7,529.2 L280.7,530.0 L281.7,525.0 L282.7,524.2 L283.7,525.0 L284.7,524.2 L285.3,528.3 L286.3,521.3 L287.3,520.3 L288.3,517.0 L289.3,515.8 L290.3,517.5 L291.3,516.3 L292.3,518.0 L293.0,511.7 L294.0,510.3 L295.0,510.8 L296.0,516.7 L297.0,513.3 L297.7,512.0 L298.7,514.2 L299.7,513.3 L300.7,515.8 L301.7,518.3 L302.7,517.0 L303.3,521.7 L304.3,526.7 L305.3,530.8 L306.3,533.7 L307.3,534.2 L308.3,534.2 L309.0,528.3 L309.7,523.7 L310.7,518.7 L311.3,531.7 L312.0,538.3 L312.7,535.0 L313.3,529.2 L314.3,524.7 L315.3,523.7 L316.3,522.5 L317.0,517.5 L318.0,520.8 L319.0,519.2 L319.7,514.2 L320.7,513.3 L321.3,510.8 L322.0,517.5 L323.0,519.2 L324.0,520.8 L325.0,523.0 L325.7,518.3 L326.3,510.0 L327.0,500.8 L327.7,499.2 L328.3,509.2 L329.3,505.8 L330.0,499.7 L330.7,504.2 L331.7,504.7 L332.7,504.2 L333.3,498.3 L334.0,491.7 L335.0,490.8 L335.7,497.5 L336.3,504.2 L337.3,510.0 L338.3,508.3 L339.0,514.2 L340.0,519.2 L341.0,519.7 L342.0,512.5 L343.0,510.8 L344.0,511.7 L344.7,505.0 L345.3,510.0 L346.0,517.5 L346.7,515.8 L347.3,520.8 L348.0,525.0 L348.7,517.5 L349.7,514.2 L350.7,510.0 L351.7,506.7 L352.3,505.8 L353.3,510.0 L354.3,514.2 L355.3,518.7 L356.3,521.3 L357.3,523.3 L358.3,525.8 L359.3,530.8 L360.0,534.2 L360.7,537.5 L361.3,531.7 L362.0,525.8 L363.0,526.7 L364.0,525.3 L365.0,525.0 L366.0,524.2 L367.0,523.7 L367.7,519.2 L368.7,515.8 L369.3,519.2 L370.0,523.7 L371.0,525.8 L372.0,528.3 L372.7,530.0 L373.3,525.0 L374.3,521.7 L375.3,523.7 L376.3,520.0 L377.3,517.5 L378.3,510.0 L379.0,505.0 L380.0,504.7 L380.7,500.8 L381.3,501.3 L382.0,510.0 L382.7,513.3 L383.3,502.5 L384.0,503.3 L384.7,514.2 L385.7,515.8 L386.7,524.7 L387.7,525.8 L388.7,528.3 L389.7,529.2 L390.3,533.3 L391.0,539.2 L392.0,539.7 L393.0,536.7 L394.0,531.7 L395.0,526.7 L396.0,523.0 L396.7,522.5 L397.7,525.8 L398.7,527.5 L400.0,528.3 L401.0,524.2 L401.7,523.3 L402.7,529.2 L403.7,525.0 L404.7,520.0 L405.7,519.7 L406.7,523.7 L407.7,518.3 L408.7,516.7 L409.3,510.8 L410.0,505.0 L411.0,504.2 L411.7,505.0 L412.3,511.7 L413.0,520.0 L413.7,515.8 L414.7,510.8 L415.3,515.8 L416.3,519.2 L417.3,520.0 L418.3,524.2 L419.3,519.2 L420.0,517.5 L420.7,528.3 L421.3,537.5 L422.3,539.2 L423.3,536.7 L424.3,533.3 L425.3,533.0 L426.3,534.2 L427.0,539.2 L428.0,540.0 L428.7,536.7 L429.7,538.3 L430.7,537.5 L431.7,532.5 L432.3,529.7 L433.3,529.2 L434.3,525.3 L435.3,525.8 L436.3,526.7 L437.3,525.8 L438.0,531.7 L439.0,528.3 L440.0,523.7 L440.7,520.0 L441.3,523.7 L442.3,527.5 L443.3,531.7 L444.3,534.2 L445.0,535.8 L446.0,531.7 L447.0,529.7 L448.0,530.0 L449.0,528.7 L450.0,527.5 L451.0,528.3 L452.0,523.7 L453.0,527.5 L453.7,521.7 L454.3,512.5 L455.0,512.0 L455.7,515.0 L456.3,521.7 L457.0,522.5 L457.7,508.3 L458.3,495.0 L459.0,488.3 L460.0,488.0 L460.7,489.2 L461.3,496.7 L462.3,499.7 L463.3,500.0 L464.3,497.5 L465.0,502.5 L465.7,500.8 L466.3,507.5 L467.0,505.0 L467.7,509.2 L468.3,506.7 L469.0,512.5 L470.0,511.7 L471.0,515.8 L472.0,519.2 L473.0,521.7 L473.7,523.3 L474.7,520.0 L475.7,518.7 L476.7,519.7 L477.7,522.5 L478.7,523.0 L479.7,520.0 L480.3,512.5 L481.0,506.7 L482.0,507.5 L483.0,505.3 L483.7,501.3 L484.3,499.7 L485.0,503.3 L485.7,498.7 L486.7,497.5 L487.3,503.3 L488.0,509.2 L488.7,514.2 L489.7,510.0 L490.7,503.3 L491.3,499.2 L492.0,496.7 L493.0,500.8 L493.7,500.0 L494.3,505.0 L495.0,513.3 L495.7,505.0 L496.3,504.2 L497.0,512.5 L497.7,507.5 L498.3,504.2 L499.0,504.7 L499.7,509.2 L500.7,514.2 L501.7,516.7 L502.7,517.5 L503.3,522.5 L504.0,515.8 L504.7,514.2 L505.3,519.2 L506.3,516.7 L507.0,523.3 L507.7,529.2 L508.3,525.0 L509.0,523.3 L510.0,518.3 L511.0,521.7 L512.0,519.2 L513.0,517.0 L514.0,515.8 L514.7,511.7 L515.0,503.3 L515.7,509.2 L516.3,515.8 L517.3,518.3 L518.0,525.0 L519.0,527.0 L520.0,523.7 L521.0,523.0 L522.0,525.0 L523.0,527.5 L523.7,529.2 L524.3,531.7 L525.0,523.3 L525.7,512.5 L526.3,514.2 L527.0,519.2 L527.7,517.5 L528.3,524.2 L529.3,518.7 L530.0,523.3 L531.0,518.3 L532.0,519.2 L532.7,522.5 L533.3,521.7 L534.3,525.8 L535.3,530.0 L536.3,532.5 L537.0,528.3 L538.0,525.3 L539.0,527.5 L539.7,523.7 L540.3,517.5 L541.0,512.5 L542.0,511.7 L542.7,515.8 L543.3,521.7 L544.0,514.2 L545.0,515.0 L546.0,511.7 L546.7,515.0 L547.7,519.2 L548.7,522.5 L549.7,526.3 L550.3,530.8 L551.0,535.0 L552.0,537.5 L553.0,538.7 L554.0,538.3 L555.0,539.7 L556.0,538.3 L557.0,540.0 L558.3,540.0 L559.3,536.7 L560.0,535.0 L560.7,530.8 L561.7,536.7 L562.7,531.7 L563.7,529.2 L564.7,528.0 L565.7,527.5 L566.3,520.0 L567.3,523.3 L568.3,522.5 L569.3,520.0 L570.0,515.8 L571.0,513.3 L571.7,514.2 L572.3,518.3 L573.0,524.2 L574.0,520.0 L574.7,528.3 L575.3,536.7 L576.0,532.5 L577.0,533.3 L578.0,532.5 L578.7,535.8 L579.3,526.7 L580.0,528.3 L580.7,537.5 L581.3,539.2 L582.3,536.7 L583.3,535.8 L584.3,535.0 L585.3,531.7 L586.0,535.0 L586.7,530.8 L587.3,525.8 L588.0,520.8 L589.0,520.0 L590.0,520.3 L590.7,515.0 L591.3,512.0 L592.0,514.2 L592.7,520.0 L593.3,525.8 L594.0,530.8 L594.7,524.2 L595.3,520.0 L596.3,516.3 L597.3,514.7 L598.3,513.7 L599.3,515.3 L600.3,513.3 L601.3,510.0 L602.3,509.7 L603.0,513.3 L603.7,508.3 L604.3,502.5 L605.0,496.7 L606.0,494.2 L607.0,493.7 L608.0,494.2 L608.7,503.3 L609.3,496.3 L610.0,498.3 L610.7,503.3 L611.3,505.0 L612.0,500.8 L612.7,495.8 L613.3,490.8 L614.0,487.5 L615.0,485.8 L616.0,486.7 L616.7,491.7 L617.7,494.2 L618.3,495.8 L619.3,495.0 L620.0,490.0 L621.0,487.5 L621.7,486.7 L622.3,495.0 L623.0,505.0 L623.7,503.3 L624.3,507.5 L625.3,509.2 L626.0,513.3 L626.7,510.0 L627.7,510.8 L628.3,510.0 L629.0,505.8 L630.0,506.7 L631.0,507.5 L631.7,513.3 L632.0,519.2 L632.7,515.0 L633.3,510.0 L634.0,509.2 L634.7,515.8 L635.3,512.5 L636.0,515.8 L636.7,510.0 L637.3,500.8 L638.0,512.5 L638.7,515.8 L639.7,519.2 L640.7,520.0 L641.7,519.2 L642.7,519.7 L643.7,517.5 L644.7,515.8 L645.7,514.7 L646.7,513.3 L647.3,515.8 L648.3,512.5 L649.0,511.7 L649.7,521.7 L650.3,513.3 L651.0,512.5 L651.7,525.0 L652.3,516.7 L653.0,520.8 L653.7,517.5 L654.7,518.3 L655.7,520.8 L656.3,524.2 L657.0,528.3 L658.0,529.2 L658.7,525.0 L659.3,520.8 L660.0,515.8 L660.7,519.2 L661.3,525.8 L662.0,531.7 L662.7,535.0 L663.3,537.5 L664.3,539.2 L665.0,538.3 L665.7,531.7 L666.7,530.0 L667.7,527.5 L668.3,523.7 L669.0,530.0 L669.7,524.2 L670.3,521.7 L671.0,526.3 L672.0,525.0 L673.0,528.3 L673.7,524.2 L674.3,520.8 L675.3,520.0 L676.0,515.8 L676.7,513.3 L677.3,517.5 L678.0,522.5 L678.7,520.0 L679.3,518.3 L680.3,520.0 L681.3,519.7 L682.3,520.8 L683.0,515.8 L683.7,511.7 L684.3,511.3 L685.0,515.0 L686.0,515.8 L686.7,510.8 L687.3,515.3 L688.0,515.8 L688.7,521.7 L689.3,530.8 L690.0,523.7 L690.7,523.0 L691.3,527.5 L692.0,523.7 L692.7,525.8 L693.7,530.0 L694.7,534.2 L695.7,531.7 L696.7,529.2 L697.7,525.8 L698.7,522.5 L699.7,521.7 L700.7,523.7 L701.3,520.0 L702.0,519.2 L702.7,518.7 L703.3,522.5 L704.3,520.3 L705.3,520.8 L706.3,520.0 L707.0,524.2 L707.7,525.0 L708.3,520.0 L709.0,515.3 L709.7,523.3 L710.3,528.3 L711.0,531.7 L712.0,529.2 L713.0,525.0 L714.0,522.0 L715.0,522.5 L716.0,520.8 L716.7,520.0 L717.7,522.5 L718.3,525.0 L719.3,529.2 L720.0,525.0 L720.3,523.7 L721.0,518.3 L721.7,527.5 L722.3,519.2 L723.0,518.3 L723.7,524.7 L724.3,517.5 L725.0,529.2 L725.7,517.0 L726.3,520.0 L727.0,524.2 L727.7,522.5 L728.3,520.0 L729.0,517.5 L729.7,511.7 L730.3,510.0 L731.0,510.8 L731.7,503.7 L732.3,504.2 L733.0,510.0 L733.7,515.8 L734.3,517.5 L735.0,520.0 L735.7,522.5 L736.3,517.0 L737.0,516.3 L737.7,523.3 L738.3,529.2 L739.3,532.5 L740.0,535.8 L741.0,533.3 L742.0,532.5 L743.0,535.0 L744.0,531.7 L744.7,525.0 L745.7,524.2 L746.7,528.3 L747.7,532.5 L748.7,534.2 L749.7,533.3 L750.3,538.3 L751.0,538.7 L751.7,532.5 L752.7,529.2 L753.7,530.0 L754.7,529.2 L755.3,531.7 L756.0,524.2 L756.7,523.7 L757.3,530.0 L758.0,525.0 L758.7,520.8 L759.3,522.5 L760.0,520.0 L760.7,525.3 L761.3,517.5 L762.0,512.5 L762.7,511.7 L763.3,515.8 L764.0,533.3 L764.7,534.7 L765.3,530.8 L766.0,529.7 L766.7,533.3 L767.3,530.0 L768.3,528.3 L769.0,529.2 L769.7,525.8 L770.3,525.3 L771.0,530.0 L771.7,525.0 L772.3,515.0 L773.0,515.8 L773.7,509.2 L774.3,508.3 L775.0,504.2 L775.7,516.7 L776.0,529.2 L777.0,528.3 L778.0,528.0 L779.0,529.2 L780.0,530.0 L781.0,531.7 L782.0,530.8 L782.7,527.5 L783.3,533.3 L784.0,534.2 L784.7,529.2 L785.3,525.3 L786.0,525.8 L786.7,527.5 L787.7,526.7 L788.7,523.7 L789.3,525.8 L790.0,522.5 L790.7,523.7 L791.3,520.0 L792.0,519.2 L792.7,520.8 L793.3,525.8 L794.0,529.2 L794.7,528.3 L795.3,530.8 L796.3,532.5 L797.3,533.7 L798.3,534.2 L799.0,530.0 L799.7,523.7 L800.3,520.8 L801.0,520.0 L801.7,516.3 L802.3,514.7" fill="none" stroke="#1c2026" stroke-width="1.3" stroke-linejoin="round"/>
<circle cx="802" cy="153.7" r="2.1" fill="#1c2026"/>
<g fill="none" stroke="#2ea043" stroke-width="1">
<path d="M820,150 L830,115.5 M825.5,119 L830,115.5 L832.5,120.5"/>
<path d="M818.2,210.5 L829.2,176.2 M824.7,180 L829.2,176.2 L831.7,181.2"/>
<path d="M789.5,539.8 L807.5,537.6 M804,535 L807.5,537.6 L804.5,540"/>
<path d="M592.5,540.2 L595,539.7"/>
</g>
<!-- logo -->
<g>
<rect x="679.6" y="446.9" width="18.6" height="15" fill="#9fcdf2"/>
<path d="M680.7,462 L692.2,462 L692.2,465.8 Z" fill="#1c2026"/>
<path d="M681.8,453.6 L684,449.4 L686.3,459.2 L689.3,450.6 L692.6,454.2 L696.5,444.4" fill="none" stroke="#1c2026" stroke-width="1.2" stroke-linejoin="miter"/>
</g>
</svg>
<div class="t" style="left:393.7px;top:-16px;font-size:27.4px;line-height:32px;letter-spacing:-0.5px">Copper vs. Gold</div>
<div class="t" style="left:376px;top:371px;font-size:27.4px;line-height:32px;letter-spacing:0.42px">Russell 2000 - IWM</div>
<div class="t" style="left:417px;top:23.5px;font-size:14px;line-height:16px;color:#3b82f6;">50-Week Moving Average</div>
<div class="t" style="left:833.9px;top:136.5px;font-size:29.5px;line-height:30px;transform:scaleX(0.92);transform-origin:50% 50%;">?</div>
<div class="t" style="left:706px;top:443px;font-size:20.5px;line-height:24px;font-family:'Liberation Serif',serif;color:#1f2328;">The Chart Report</div>
<div class="box" style="left:21.5px;top:196px;width:59.5px;height:20px;line-height:20.4px;border-radius:2px;background:#1f2328;text-align:right;padding-right:0;box-sizing:border-box;padding-right:8.5px">265.07</div>
<div class="box" style="left:873px;top:124px;width:68px;height:20px;background:#3176f3;border-radius:1.5px 1.5px 0 0;padding-left:9.5px;box-sizing:border-box">0.00132</div>
<div class="box" style="left:873px;top:144px;width:68px;height:20px;border-radius:0 0 1.5px 1.5px;background:#1f2328;padding-left:9.5px;box-sizing:border-box">0.00127</div>
<div class="box" style="left:873px;top:505px;width:52px;height:20px;border-radius:1.5px;background:#1f2328;padding-left:9.5px;box-sizing:border-box">53.65</div>
</body></html>
